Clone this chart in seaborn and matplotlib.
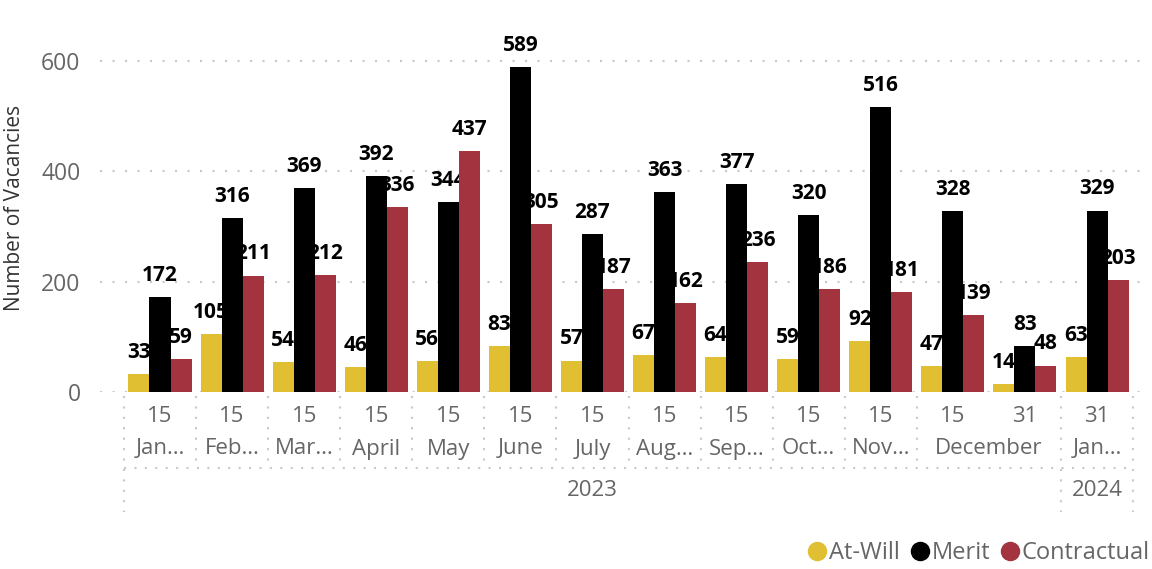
import numpy as np
import pandas as pd
import matplotlib
matplotlib.use("Agg")
import matplotlib.pyplot as plt
import matplotlib.transforms as mtransforms
from matplotlib.lines import Line2D
import seaborn as sns

# ---------------- data ----------------
period_keys = ["2023-01-15", "2023-02-15", "2023-03-15", "2023-04-15", "2023-05-15",
               "2023-06-15", "2023-07-15", "2023-08-15", "2023-09-15", "2023-10-15",
               "2023-11-15", "2023-12-15", "2023-12-31", "2024-01-31"]
day_labels = ["15"] * 12 + ["31", "31"]
month_labels = ["Jan…", "Feb…", "Mar…", "April", "May", "June", "July", "Aug…",
                "Sep…", "Oct…", "Nov…", "December", "Jan…"]
month_spans = [1] * 11 + [2, 1]          # number of periods under each month label
year_labels = ["2023", "2024"]
year_spans = [13, 1]

series_names = ["At-Will", "Merit", "Contractual"]
at_will = [33, 105, 54, 46, 56, 83, 57, 67, 64, 59, 92, 47, 14, 63]
merit = [172, 316, 369, 392, 344, 589, 287, 363, 377, 320, 516, 328, 83, 329]
contractual = [59, 211, 212, 336, 437, 305, 187, 162, 236, 186, 181, 139, 48, 203]
colors = ["#E0C032", "#000000", "#A3343F"]

df = pd.DataFrame({"period": period_keys, "At-Will": at_will,
                   "Merit": merit, "Contractual": contractual})
long = df.melt(id_vars="period", var_name="series", value_name="value")

# ---------------- style ----------------
sns.set_style("white")
plt.rcParams["font.family"] = ["Open Sans", "DejaVu Sans"]

W, H = 1152, 569
fig = plt.figure(figsize=(W / 100, H / 100), dpi=100)
ax = fig.add_axes([100 / W, (H - 392) / H, 1040 / W, (392 - 30) / H])

sns.barplot(data=long, x="period", y="value", hue="series", order=period_keys,
            hue_order=series_names, palette=colors, saturation=1, width=0.875,
            errorbar=None, linewidth=0, legend=False, ax=ax)

for p in ax.patches:
    p.set_zorder(3)

for cont in ax.containers:
    texts = ax.bar_label(cont, padding=8, fontsize=15, fontweight="bold",
                         color="black")
    for t in texts:
        t.set_zorder(2)

step = 72.08
ax.set_xlim((100 - 160) / step, (1140 - 160) / step)
ax.set_ylim(0, 600 * (392 - 30) / 331)
ax.set_yticks([0, 200, 400, 600])
ax.tick_params(axis="y", length=0, pad=14, labelsize=16.5, labelcolor="#666666")
ax.set_xticks(range(len(period_keys)))
ax.set_xticklabels([])
ax.tick_params(axis="x", length=0)
ax.set_xlabel("")
ax.set_ylabel("")
for s in ax.spines.values():
    s.set_visible(False)
ax.set_axisbelow(True)
ax.yaxis.grid(True, color="#c8c8c8", linestyle=(0, (1, 5)), linewidth=1.5)
ax.xaxis.grid(False)

# ---------------- hierarchical x axis ----------------
tr = mtransforms.blended_transform_factory(ax.transData, fig.transFigure)
fy = lambda py: 1 - py / H
lab_kw = dict(fontsize=16, color="#666666", ha="center", va="center", transform=tr)

for i, d in enumerate(day_labels):
    ax.text(i, fy(416), d, **lab_kw)

pos = 0
month_bounds = [-0.5]
for m, span in zip(month_labels, month_spans):
    ax.text(pos + (span - 1) / 2, fy(449), m, **lab_kw)
    pos += span
    month_bounds.append(pos - 0.5)

pos = 0
year_bounds = [-0.5]
for y, span in zip(year_labels, year_spans):
    ax.text(pos + (span - 1) / 2, fy(491), y, **lab_kw)
    pos += span
    year_bounds.append(pos - 0.5)

sep_kw = dict(color="#c8c8c8", linestyle=(0, (1, 4)), linewidth=1.5,
              transform=tr, clip_on=False)
for b in month_bounds:
    if b in year_bounds:
        ax.plot([b, b], [fy(396), fy(512)], **sep_kw)
    else:
        ax.plot([b, b], [fy(396), fy(468)], **sep_kw)
ax.plot([-0.5, len(period_keys) - 0.5], [fy(468), fy(468)], **sep_kw)

# ---------------- labels & legend ----------------
fig.text(15 / W, fy(208), "Number of Vacancies", rotation=90, ha="center",
         va="center", fontsize=15, color="#333333")

handles = [Line2D([], [], marker="o", linestyle="", markersize=13,
                  markerfacecolor=c, markeredgecolor=c) for c in colors]
fig.legend(handles, series_names, loc="center right",
           bbox_to_anchor=(1150 / W, fy(553)), frameon=False, ncol=3,
           handletextpad=0.0, columnspacing=0.35, handlelength=1.0,
           fontsize=17, labelcolor="#666666", borderpad=0, borderaxespad=0)

fig.savefig("out.png", dpi=100)
